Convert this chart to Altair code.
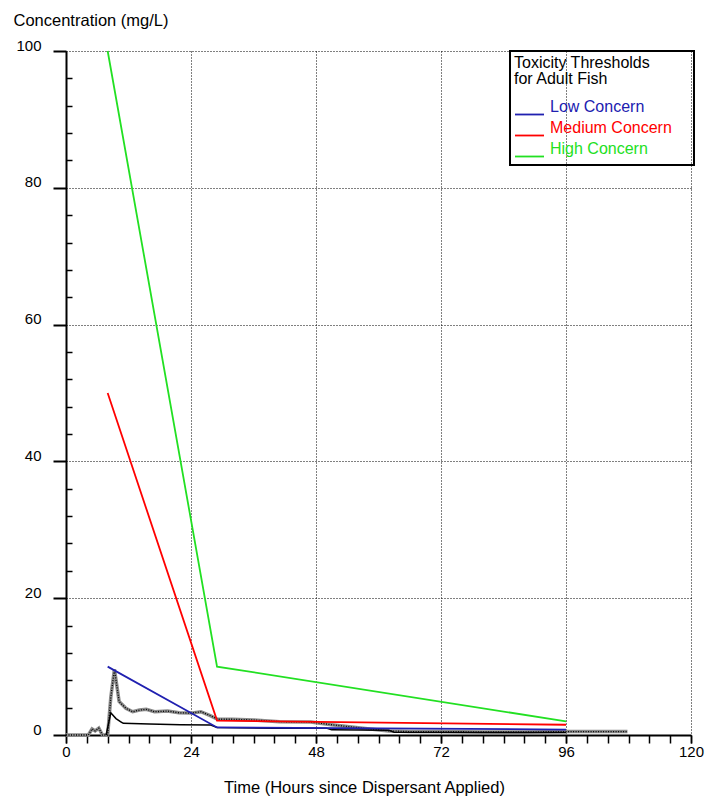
import altair as alt
import pandas as pd

FONT = "Liberation Sans"

# ---- toxicity threshold lines ----
thr_hours = [8, 29, 96]
low_conc = [10, 1.1, 0.8]
med_conc = [50, 2.1, 1.5]
high_conc = [100, 10, 2]
series_names = ["Low Concern", "Medium Concern", "High Concern"]
series_colors = ["#2020b0", "#ff0000", "#22e022"]

# ---- hatched (gray) concentration trace ----
obs_hours = [0, 4.3, 5.0, 5.6, 6.3, 7.0, 8.0, 8.6, 9.3, 10.2, 11.5, 12.8, 14.1, 15.4,
             17.0, 19.5, 21.7, 24.0, 25.9, 27.8, 29.1, 32, 36, 41, 47, 51, 57, 62,
             66, 72, 80, 88, 96, 102, 107.8]
obs_conc = [0, 0, 0.9, 0.6, 1.0, 0, 0, 5.5, 9.6, 4.9, 3.9, 3.4, 3.65, 3.75,
            3.4, 3.5, 3.25, 3.2, 3.4, 2.8, 2.3, 2.3, 2.2, 1.95, 1.9, 1.5, 1.0, 0.6,
            0.5, 0.5, 0.45, 0.45, 0.5, 0.5, 0.5]

# ---- thin black concentration trace ----
thin_hours = [7.7, 8.6, 9.6, 10.6, 11.0, 16, 22, 27.8, 29, 40, 50, 51, 62, 63, 96]
thin_conc = [0, 3.25, 2.4, 1.9, 1.7, 1.6, 1.5, 1.45, 1.1, 1.0, 1.0, 0.75, 0.7, 0.4, 0.35]

# ---- ticks ----
x_major = [0, 24, 48, 72, 96, 120]
x_minor = [0, 4, 8, 12, 16, 20, 24, 28, 32, 36, 40, 44, 48, 52, 56, 60, 64, 68, 72,
           76, 80, 84, 88, 92, 96, 100, 104, 108, 112, 116, 120]
y_major = [0, 20, 40, 60, 80, 100]
y_minor = [4, 8, 12, 16, 24, 28, 32, 36, 44, 48, 52, 56, 64, 68, 72, 76, 84, 88, 92, 96]

thr_df = pd.DataFrame({
    "hours": thr_hours * 3,
    "conc": low_conc + med_conc + high_conc,
    "series": [s for s in series_names for _ in thr_hours],
})
obs_df = pd.DataFrame({"hours": obs_hours, "conc": obs_conc})
thin_df = pd.DataFrame({"hours": thin_hours, "conc": thin_conc})

xscale = alt.Scale(domain=[0, 120], nice=False, zero=False)
yscale = alt.Scale(domain=[0, 100], nice=False, zero=False)

x_main_axis = alt.Axis(
    orient="bottom", values=x_major, grid=True, gridDash=[1, 2], gridColor="black",
    gridOpacity=1, gridWidth=1, tickSize=8, tickWidth=1.5, tickColor="black",
    domainColor="black", domainWidth=2, labelFont=FONT, labelFontSize=15,
    labelColor="black", labelPadding=1, labelFlush=False,
    title="Time (Hours since Dispersant Applied)", titleFont=FONT, titleFontSize=16.5,
    titleFontWeight="normal", titleColor="black", titleX=298, titleY=52,
    titleAlign="center", titleBaseline="middle",
)
y_main_axis = alt.Axis(
    orient="left", values=y_major, grid=True, gridDash=[1, 2], gridColor="black",
    gridOpacity=1, gridWidth=1, tickSize=13, tickWidth=2, tickColor="black",
    domainColor="black", domainWidth=2, labelFont=FONT, labelFontSize=15,
    labelColor="black", labelPadding=12, labelBaseline="alphabetic", labelOffset=-1,
    labelFlush=False,
    title="Concentration (mg/L)", titleFont=FONT, titleFontSize=16.5,
    titleFontWeight="normal", titleColor="black", titleAngle=0, titleAlign="left",
    titleBaseline="middle", titleX=-53, titleY=-31,
)
x_minor_axis = alt.Axis(
    orient="bottom", values=x_minor, grid=False, domain=False, labels=False,
    tickSize=8, tickWidth=1.5, tickColor="black", title=None,
)
y_minor_axis = alt.Axis(
    orient="left", values=y_minor, grid=False, domain=False, labels=False,
    tickSize=6, tickWidth=1.5, tickColor="black", offset=-6, title=None,
)

label_color_expr = (
    f"datum.value == '{series_names[0]}' ? '{series_colors[0]}' : "
    f"datum.value == '{series_names[1]}' ? '{series_colors[1]}' : '{series_colors[2]}'"
)
# trailing spacer (non-breaking spaces closed by a zero-width char) widens the legend box
spacer = "\u00a0" * 4 + "\u200b"

legend = alt.Legend(
    title=["Toxicity Thresholds", "for Adult Fish"], orient="none",
    legendX=444, legendY=0, direction="vertical",
    symbolType="stroke", symbolSize=841, symbolStrokeWidth=1.8,
    labelFont=FONT, labelFontSize=16, labelOffset=5, labelBaseline="bottom",
    labelColor={"expr": label_color_expr},
    labelExpr="datum.label + '" + spacer + "'",
    titleFont=FONT, titleFontSize=16, titleFontWeight="normal", titleColor="black",
    titleLineHeight=16, titleBaseline="top", titlePadding=12,
    padding=4, rowPadding=0, strokeColor="black",
)

hatch_gray = alt.Chart(obs_df).mark_line(color="#8c8c8c", strokeWidth=3.5).encode(
    x=alt.X("hours:Q", scale=xscale, axis=x_minor_axis),
    y=alt.Y("conc:Q", scale=yscale, axis=y_minor_axis),
    order="hours:Q",
)
hatch_dots = alt.Chart(obs_df).mark_line(color="black", strokeWidth=1.3, strokeDash=[1, 1.5]).encode(
    x=alt.X("hours:Q", scale=xscale, axis=None),
    y=alt.Y("conc:Q", scale=yscale, axis=None),
    order="hours:Q",
)
thin = alt.Chart(thin_df).mark_line(color="black", strokeWidth=1.5).encode(
    x=alt.X("hours:Q", scale=xscale, axis=None),
    y=alt.Y("conc:Q", scale=yscale, axis=None),
    order="hours:Q",
)
thresholds = alt.Chart(thr_df).mark_line(strokeWidth=1.8).encode(
    x=alt.X("hours:Q", scale=xscale, axis=x_main_axis),
    y=alt.Y("conc:Q", scale=yscale, axis=y_main_axis),
    color=alt.Color("series:N", scale=alt.Scale(domain=series_names, range=series_colors),
                    legend=legend),
    order="hours:Q",
)

chart = alt.layer(hatch_gray, hatch_dots, thin, thresholds).resolve_axis(
    x="independent", y="independent"
).properties(
    width=625, height=684,
    padding={"left": 66, "top": 51, "right": 15, "bottom": 71},
    autosize=alt.AutoSizeParams(type="none"),
    background="white",
).configure_view(stroke=None).configure_legend(strokeWidth=2)

chart.save("out.html", embed_options={"renderer": "svg", "actions": False})
